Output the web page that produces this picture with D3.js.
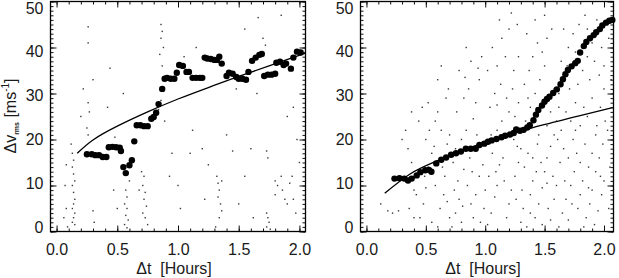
<!DOCTYPE html>
<html>
<head>
<meta charset="utf-8">
<script src="https://cdn.jsdelivr.net/npm/d3@7"></script>
<style>
  body{margin:0;background:#fff;}
  svg text{font-family:"Liberation Sans",Arial,Helvetica,sans-serif;fill:#1a1a1a;}
  .domain{display:none;}
</style>
</head>
<body>
<svg id="chart" width="619" height="278"></svg>
<script>
// ---- data ----
// left panel: binned points [dt, dv]
var leftBins = [
  [0.25,16.8],[0.29,16.8],[0.32,16.6],[0.35,16.6],[0.38,16.2],[0.41,16.2],
  [0.43,18.3],[0.46,18.4],[0.49,18.3],[0.52,18.2],[0.53,17.5],
  [0.55,14.0],[0.57,12.7],[0.60,14.4],[0.62,15.5],[0.64,19.6],
  [0.66,23.1],[0.69,23.1],[0.72,22.9],[0.75,22.9],[0.78,24.5],[0.80,24.9],
  [0.82,25.8],[0.84,27.7],[0.87,31.0],[0.89,33.2],[0.91,33.4],[0.94,33.2],
  [0.97,33.2],[0.99,34.5],[1.01,36.2],[1.04,36.0],[1.07,34.7],[1.09,34.7],
  [1.12,33.4],[1.15,33.4],[1.18,33.4],[1.20,33.4],[1.22,37.8],[1.24,37.6],
  [1.27,37.5],[1.30,37.3],[1.32,37.3],[1.34,38.0],[1.36,36.5],[1.40,33.8],
  [1.42,34.5],[1.45,34.3],[1.48,33.6],[1.50,33.2],[1.53,33.2],[1.56,33.0],
  [1.58,34.7],[1.61,37.1],[1.64,37.8],[1.67,38.4],[1.69,38.6],[1.71,33.8],
  [1.74,34.1],[1.77,34.1],[1.80,34.3],[1.81,36.7],[1.84,36.9],[1.87,36.2],
  [1.89,36.5],[1.93,35.4],[1.95,37.8],[1.98,39.1],[2.01,38.9]
];
// left panel: fitted curve
var leftFit = [
  [0.17,17.0],[0.30,19.9],[0.50,22.9],[0.75,26.0],[1.00,28.8],
  [1.25,31.3],[1.50,33.7],[1.75,36.0],[2.05,38.8]
];
// left panel: individual measurements
var leftRaw = [
  [0.13,17],[0.14,15.5],[0.13,14],[0.14,12.5],[0.15,11],[0.13,10],[0.14,8.5],[0.15,7],
  [0.14,6],[0.13,5],[0.15,4],[0.14,3],[0.13,2],[0.15,1.5],[0.12,19],
  [0.08,14.5],[0.07,10],[0.08,5],[0.06,3],[0.09,1],
  [0.26,44.5],[0.26,41],[0.22,31],[0.26,28],[0.27,26],[0.25,22.5],[0.20,25],[0.26,21],
  [0.30,4.5],[0.31,2],[0.30,33],
  [0.44,35.5],[0.42,27],[0.47,9],[0.50,5],[0.48,20.5],[0.55,30],
  [0.57,9],[0.58,7.5],[0.56,6],[0.58,5],[0.57,3.5],[0.59,2.5],[0.56,1.5],[0.58,0.8],[0.60,11],
  [0.70,13],[0.72,12],[0.71,10],[0.73,8.5],[0.72,7],[0.74,5.5],[0.71,4],[0.73,3],[0.75,1.5],[0.68,9],
  [0.86,45],[0.87,43.5],[0.86,42],[0.88,40],[0.85,38.5],[0.87,36],[0.86,28.5],[0.84,26.5],[0.89,24],
  [0.95,17],[0.93,12],[1.00,10],[1.02,5],[1.10,17],[1.05,38],[1.15,40],[1.12,22],[1.20,18],
  [1.25,14.5],[1.22,7],
  [1.32,12],[1.33,10.5],[1.34,9],[1.33,7.5],[1.35,6],[1.36,4.5],[1.34,3],[1.31,1],[1.36,11],
  [1.40,21],[1.45,17.5],[1.50,6],[1.55,12],[1.60,18],[1.62,3],[1.48,31],[1.55,44],[1.66,46.5],
  [1.70,42],[1.72,40.5],
  [1.73,17.5],[1.74,16],[1.73,4],[1.74,3],[1.75,2],[1.73,1],[1.76,0.5],
  [1.80,8],[1.80,11],[1.82,10],[1.85,12],[1.86,9],[1.88,7],[1.90,6],[1.92,10.5],[1.94,12],[1.95,7],
  [1.90,25],[1.95,27],[1.98,20],[2.00,15],[1.85,47],[1.78,34],[1.65,30],[1.97,4]
];

// right panel: binned points
var rightBins = [
  [0.236,11.5],[0.278,11.6],[0.319,11.5],[0.350,11.1],[0.381,11.5],[0.423,12.2],
  [0.454,12.9],[0.495,13.3],[0.526,13.4],[0.547,13.0],[0.588,14.8],[0.630,15.6],
  [0.671,16.1],[0.713,16.7],[0.754,17.0],[0.795,17.4],[0.837,18.0],[0.878,18.0],
  [0.920,18.0],[0.951,18.8],[0.992,19.1],[1.023,19.5],[1.054,19.8],[1.095,20.1],
  [1.137,20.5],[1.168,20.8],[1.209,21.1],[1.240,21.4],[1.261,22.2],[1.292,21.9],
  [1.323,22.1],[1.354,22.6],[1.375,23.1],[1.406,24.2],[1.427,25.4],[1.447,26.4],
  [1.478,27.4],[1.499,28.2],[1.520,28.8],[1.541,29.3],[1.572,30.1],[1.603,30.9],
  [1.634,32.0],[1.654,33.1],[1.675,34.2],[1.696,35.1],[1.727,35.9],[1.758,36.6],
  [1.779,37.1],[1.799,38.9],[1.830,40.3],[1.851,41.2],[1.882,42.0],[1.913,42.7],
  [1.934,43.3],[1.965,44.0],[1.986,44.8],[2.017,45.4],[2.045,45.8],[2.070,46.0]
];
// right panel: fitted curve
var rightFit = [
  [0.154,8.3],[0.361,12.4],[0.609,15.5],[0.976,19.2],[1.230,21.3],
  [1.478,23.1],[1.799,25.2],[2.080,27.0]
];
// right panel: individual measurements
var rightRaw = [
  [0.12,6],[0.18,4.5],[0.22,4],[0.27,4.5],[0.30,20],[0.35,18],[0.38,15],[0.40,9],[0.42,8],
  [0.36,5],[0.40,3],[0.33,22],[0.44,24],[0.47,27],[0.38,26],
  [0.45,3],[0.48,6],[0.50,9.5],[0.52,14],[0.55,17],[0.50,20],[0.53,22],[0.58,24],[0.60,26],
  [0.52,28],[0.60,33],[0.63,36],[0.55,2],[0.60,1],[0.62,5],[0.65,8],[0.58,10],[0.66,12],
  [0.68,19],[0.70,21],[0.63,22],[0.67,29],[0.69,31],[0.70,3],[0.68,6.5],[0.64,14],[0.57,18.5],[0.49,12],
  [0.72,1],[0.75,4],[0.78,7],[0.80,2],[0.74,9],[0.77,11],[0.82,13.5],[0.85,10],[0.88,6],[0.90,3],
  [0.92,8],[0.95,12],[0.98,14.5],[0.73,15],[0.80,20],[0.84,22],[0.90,24.5],[0.76,26],[0.82,29],
  [0.86,31],[0.92,28],[0.95,33],[0.78,35],[0.88,37],[0.84,40],[0.97,38],[0.93,21],[0.99,5],
  [0.87,16],[0.75,18],[0.96,2],[0.81,5.5],[0.89,13],
  [1.02,1.5],[1.05,4],[1.08,7.5],[1.10,10],[1.03,12],[1.12,14.5],[1.15,16],[1.18,3],[1.20,6],
  [1.22,9],[1.25,12],[1.28,15],[1.06,17],[1.10,22],[1.14,24],[1.20,26],[1.25,25],[1.04,27],
  [1.08,30],[1.13,32],[1.18,29],[1.23,31],[1.28,28],[1.02,35],[1.10,36],[1.17,38],[1.24,35],
  [1.06,40],[1.14,42],[1.20,44],[1.27,45],[1.12,46],[1.22,47.5],[1.28,38],[1.30,2],[1.26,7],
  [1.16,11],[1.05,21],[1.24,20],[1.30,18],[1.00,9],[1.09,13],
  [1.32,5],[1.35,1],[1.38,8],[1.40,11],[1.42,3],[1.45,6],[1.48,9.5],[1.50,13],[1.52,16],
  [1.55,2.5],[1.58,7],[1.60,10],[1.33,14],[1.36,17],[1.40,16],[1.44,19],[1.47,15],[1.55,18.5],
  [1.58,21],[1.34,24],[1.38,27],[1.42,30],[1.46,33],[1.50,36],[1.33,32],[1.37,35],[1.40,38],
  [1.44,41],[1.48,39],[1.52,42],[1.56,44],[1.35,43],[1.42,46],[1.50,47],[1.58,31],[1.55,26],
  [1.60,24],[1.52,23],[1.45,21],[1.57,12],[1.38,4],[1.53,5],[1.48,1.5],[1.31,9],
  [1.62,1],[1.65,4],[1.68,7],[1.70,2.5],[1.72,10],[1.75,13],[1.78,5],[1.80,8],[1.82,11],
  [1.85,3],[1.88,6],[1.90,9],[1.92,1.5],[1.95,4.5],[1.98,8],[2.00,11],[1.63,15],[1.66,18],
  [1.70,16],[1.74,20],[1.77,17],[1.80,15],[1.84,19],[1.87,14],[1.90,17],[1.93,13],[1.96,16],
  [1.99,19],[1.64,22],[1.68,26],[1.72,24],[1.76,28],[1.80,23],[1.83,27],[1.86,25],[1.90,29],
  [1.94,23],[1.97,27],[2.01,24],[1.62,30],[1.67,33],[1.71,31],[1.78,32],[1.82,35],[1.88,33],
  [1.92,37],[1.96,34],[2.00,31],[1.64,37],[1.70,40],[1.74,43],[1.79,45],[1.84,47],[1.90,41],
  [1.94,46],[1.98,40],[1.66,44],[1.76,39],[1.86,38],[2.00,36],[1.73,6],[1.83,1],[1.67,11],
  [1.93,21],[1.87,9.5],[1.97,12],[1.61,20],[1.69,36],
  [2.04,5],[2.05,14],[2.03,22],[2.06,33],[2.04,42],[1.10,27.5],[0.94,35.5],[1.36,29],[1.62,27],
  [1.86,44],[1.52,10.5],[1.27,18.5],[0.83,33.5],[1.43,13],[1.76,22]
];

var xMajor = [0, 0.5, 1.0, 1.5, 2.0];
var yMajor = [0, 10, 20, 30, 40, 50];

// ---- layout ----
var svg = d3.select('#chart');
var top_ = 1.5, bottom_ = 231.5;

var scaleY = d3.scaleLinear().domain([0,50]).range([bottom_, top_]);
// label positions drift a little from the ticks in the original
var labelY = d3.scaleLinear().domain([0,50]).range([227, 8]);

var xMinor = d3.range(0, 2.05, 0.1).map(function(d){return +d.toFixed(1)});
var yMinor = d3.range(0, 51, 1);

function panel(left, right, xMax, raw, bins, fit, showYTitle){

  var scaleX = d3.scaleLinear().domain([-0.05, xMax]).range([left, right]);
  var g = svg.append('g');

  // scattered measurements
  g.selectAll('.raw').data(raw).enter()
    .append('rect')
    .attr('x', function(d){return scaleX(d[0]) - 0.7})
    .attr('y', function(d){return scaleY(d[1]) - 0.7})
    .attr('width', 1.4).attr('height', 1.4)
    .style('fill', '#3a3a3a');

  // fit
  var line = d3.line()
    .x(function(d){return scaleX(d[0])})
    .y(function(d){return scaleY(d[1])})
    .curve(d3.curveNatural);
  g.append('path').datum(fit)
    .attr('d', line)
    .style('fill','none').style('stroke','#000').style('stroke-width',1.3);

  // binned points
  g.selectAll('.bin').data(bins).enter()
    .append('circle')
    .attr('cx', function(d){return scaleX(d[0])})
    .attr('cy', function(d){return scaleY(d[1])})
    .attr('r', 3.2)
    .style('fill', '#000');

  // axes (ticks point inward on all four sides)
  var w = right - left, h = bottom_ - top_;
  function ax(gen, tr, vals, size, labels){
    var a = gen.tickValues(vals).tickSize(size);
    if(!labels) a.tickFormat('');
    var s = g.append('g').attr('transform', tr).call(a);
    s.selectAll('line').style('stroke','#111').style('stroke-width',1);
    return s;
  }
  ax(d3.axisBottom(scaleX), 'translate(0,'+bottom_+')', xMinor, -3, false);
  var xb = ax(d3.axisBottom(scaleX).tickFormat(d3.format('.1f')).tickPadding(12),
              'translate(0,'+bottom_+')', xMajor, -6, true);
  ax(d3.axisTop(scaleX), 'translate(0,'+top_+')', xMinor, -3, false);
  ax(d3.axisTop(scaleX), 'translate(0,'+top_+')', xMajor, -6, false);

  ax(d3.axisLeft(scaleY), 'translate('+left+',0)', yMinor, -3, false);
  var yl = ax(d3.axisLeft(scaleY).tickFormat(d3.format('d')).tickPadding(7),
              'translate('+left+',0)', yMajor, -6, true);
  ax(d3.axisRight(scaleY), 'translate('+right+',0)', yMinor, -3, false);
  ax(d3.axisRight(scaleY), 'translate('+right+',0)', yMajor, -6, false);

  xb.selectAll('text').style('font-size','16px').style('fill','#1a1a1a');
  yl.selectAll('text').style('font-size','16px').style('fill','#1a1a1a')
    .attr('y', function(d){return labelY(d) - scaleY(d)});

  // frame
  g.append('rect')
    .attr('x', left).attr('y', top_).attr('width', w).attr('height', h)
    .style('fill','none').style('stroke','#000').style('stroke-width',1.3);

  // x title
  g.append('text')
    .attr('x', (left + right)/2 - 4).attr('y', 274)
    .attr('text-anchor','middle').attr('xml:space','preserve')
    .style('font-size','16px')
    .text('\u0394t  [Hours]');

  if(showYTitle){
    var yt = svg.append('text')
      .attr('transform','translate(16,116) rotate(-90)')
      .attr('text-anchor','middle').style('font-size','16px');
    yt.append('tspan').text('\u0394v');
    yt.append('tspan').text('rms').style('font-size','7px').style('font-weight','bold').attr('dy', 3);
    yt.append('tspan').text(' [ms').attr('dy', -3);
    yt.append('tspan').text('-1').style('font-size','10px').attr('dy', -7);
    yt.append('tspan').text(']').attr('dy', 7);
  }
}

panel(50.5, 305.5, 2.05, leftRaw, leftBins, leftFit, true);
panel(360.5, 613.5, 2.08, rightRaw, rightBins, rightFit, false);
</script>
</body>
</html>
